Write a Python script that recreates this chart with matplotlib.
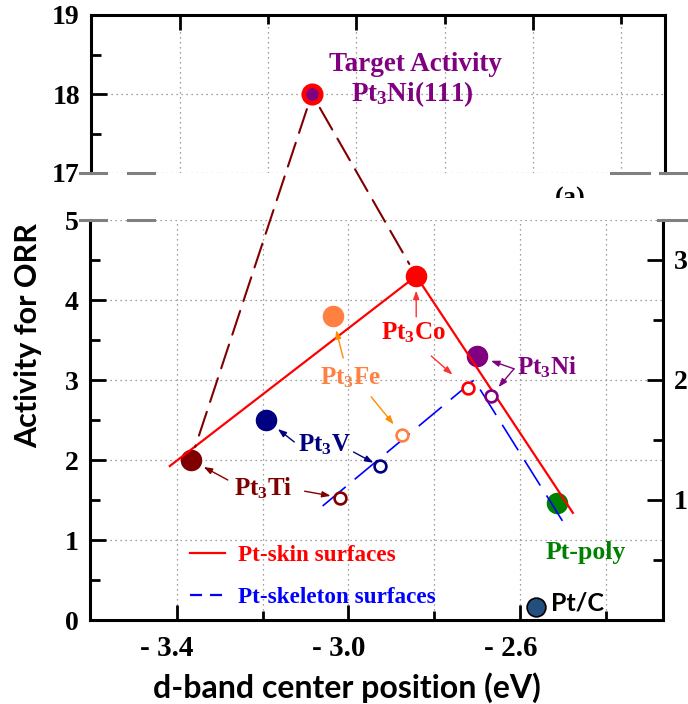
import matplotlib
matplotlib.use('Agg')
import matplotlib.pyplot as plt
from matplotlib.lines import Line2D
from matplotlib.patches import ConnectionPatch
from matplotlib.transforms import Bbox, TransformedBbox, ScaledTranslation

SERIF = 'Liberation Serif'
SANS = 'Lato'
plt.rcParams['mathtext.default'] = 'regular'

# Pt-skin surfaces (filled circles, left axis)
alloys = ['Pt$_3$Ti', 'Pt$_3$V', 'Pt$_3$Fe', 'Pt$_3$Co', 'Pt$_3$Ni']
alloy_colors = ['#800000', '#000080', '#FF8040', '#FF0000', '#800080']
skin_dband = [-3.367, -3.191, -3.037, -2.842, -2.700]
skin_activity = [2.0, 2.5, 3.8, 4.3, 3.3]

# Pt-skeleton surfaces (open circles, right axis)
skel_dband = [-3.019, -2.926, -2.874, -2.721, -2.667]
skel_activity = [1.02, 1.28, 1.54, 1.93, 1.87]

ptpoly_dband, ptpoly_activity = -2.514, 1.46
ptc_dband, ptc_activity = -2.563, 0.16
target_dband, target_activity = -3.101, 18.0

# trend lines
skin_line_x = [-3.416, -2.842, -2.477]
skin_line_y = [1.925, 4.3, 1.34]
skel_line_x = [-3.060, -2.707, -2.495]
skel_line_y = [0.95, 2.0, 0.79]

x_major = [-3.4, -3.0, -2.6]
x_minor = [-3.2, -2.8, -2.4]
x_tick_labels = ['- 3.4', '- 3.0', '- 2.6']

W, H = 688, 704
fig = plt.figure(figsize=(W / 100, H / 100), dpi=100)


def fig_rect(x0, y0, x1, y1):
    # pixel box (top-left origin) -> figure fraction rect
    return [x0 / W, 1 - y1 / H, (x1 - x0) / W, (y1 - y0) / H]


def fig_xy(px, py):
    return px / W, 1 - py / H


ax_top = fig.add_axes(fig_rect(91, 15, 665, 173))
ax = fig.add_axes(fig_rect(90, 220, 663, 620))
ax_r = ax.twinx()

grid_kw = dict(color='#808080', linestyle=(0, (1, 3)), linewidth=0.9)
tick_font = dict(family=SERIF, weight='bold')

# ---- top (broken) axes ----
ax_top.set_xlim(-3.602, -2.300)
ax_top.set_ylim(17, 19)
ax_top.set_xticks(x_major)
ax_top.set_xticks(x_minor, minor=True)
ax_top.set_yticks([17, 18, 19])
ax_top.set_yticks([17.5, 18.5], minor=True)
ax_top.set_yticklabels(['17', '18', '19'], fontsize=20, **tick_font)
ax_top.tick_params(axis='x', which='both', direction='in', top=True, bottom=False,
                   labeltop=False, labelbottom=False, width=2)
ax_top.tick_params(axis='x', which='major', length=11)
ax_top.tick_params(axis='x', which='minor', length=6.5)
ax_top.tick_params(axis='y', which='both', direction='in', left=True, right=False, width=2, pad=8)
ax_top.tick_params(axis='y', which='major', length=11.5)
ax_top.tick_params(axis='y', which='minor', length=7)
ax_top.spines['bottom'].set_visible(False)
for s in ['top', 'left', 'right']:
    ax_top.spines[s].set_linewidth(2.2)
ax_top.grid(True, which='both', axis='x', **grid_kw)
ax_top.grid(True, which='major', axis='y', **grid_kw)
ax_top.set_axisbelow(True)

# ---- bottom axes ----
ax.set_xlim(-3.602, -2.267)
ax.set_ylim(0, 5)
ax.set_xticks(x_major)
ax.set_xticks(x_minor, minor=True)
ax.set_xticklabels(x_tick_labels, fontsize=21, **tick_font)
ax.set_yticks([0, 1, 2, 3, 4, 5])
ax.set_yticks([0.5, 1.5, 2.5, 3.5, 4.5], minor=True)
ax.set_yticklabels(['0', '1', '2', '3', '4', '5'], fontsize=20, **tick_font)
ax.tick_params(axis='x', which='both', direction='in', width=2, pad=11)
ax.tick_params(axis='x', which='major', length=11)
ax.tick_params(axis='x', which='minor', length=6.5)
ax.tick_params(axis='y', which='both', direction='in', width=2, pad=8)
ax.tick_params(axis='y', which='major', length=11.5)
ax.tick_params(axis='y', which='minor', length=7)
for lab in ax.get_xticklabels():
    lab.set_transform(lab.get_transform() + ScaledTranslation(-7 / 72, 0, fig.dpi_scale_trans))
ax.spines['top'].set_visible(False)
ax.spines['right'].set_visible(False)
for s in ['left', 'bottom']:
    ax.spines[s].set_linewidth(2.2)
ax.grid(True, which='both', axis='x', **grid_kw)
ax.grid(True, which='major', axis='y', **grid_kw)
ax.set_axisbelow(True)

ax_r.set_ylim(0, 3.333)
ax_r.set_yticks([1, 2, 3])
ax_r.set_yticks([0.5, 1.5, 2.5], minor=True)
ax_r.set_yticklabels(['1', '2', '3'], fontsize=20, **tick_font)
ax_r.tick_params(axis='y', which='both', direction='in', width=2, pad=8)
ax_r.tick_params(axis='y', which='major', length=11.5)
ax_r.tick_params(axis='y', which='minor', length=7)
ax_r.spines['top'].set_visible(False)
ax_r.spines['left'].set_visible(False)
ax_r.spines['bottom'].set_visible(False)
ax_r.spines['right'].set_linewidth(2.2)

ax.set_xlabel('d-band center position (eV)', fontsize=23, family=SANS, weight='bold')
ax.xaxis.set_label_coords(0.449, -0.13)
fig.text(28 / W, 1 - 335 / H, 'Activity for ORR', rotation=90, ha='center', va='center',
         fontsize=22, family=SANS, weight='bold')

# ---- markers and trend lines ----
for x, y, c in zip(skin_dband, skin_activity, alloy_colors):
    ax.plot(x, y, 'o', ms=14.5, color=c, mec=c, zorder=3)
ax.plot(ptpoly_dband, ptpoly_activity, 'o', ms=14.5, color='#008000', zorder=3)
ax.plot(ptc_dband, ptc_activity, 'o', ms=13.5, color='#234E7E', mec='black', mew=1.2, zorder=3)
ax.plot(skin_line_x, skin_line_y, '-', color='#FF0000', lw=1.6, zorder=4)

ax_r.plot(skel_line_x, skel_line_y, color='#0000FF', lw=1.2, dashes=(18, 7), zorder=2)
for x, y, c in zip(skel_dband, skel_activity, alloy_colors):
    ax_r.plot(x, y, 'o', ms=8.5, mfc='white', mec=c, mew=1.9, zorder=5)

ax_top.plot(target_dband, target_activity, 'o', ms=12.5, mfc='#800080', mec='#FF0000',
            mew=3.4, zorder=5, clip_on=False)

# dashed connection Ti -> target -> Co across the axis break
for xb, yb in [(skin_dband[0], skin_activity[0]), (skin_dband[3], skin_activity[3])]:
    con = ConnectionPatch(xyA=(target_dband, target_activity), coordsA=ax_top.transData,
                          xyB=(xb, yb), coordsB=ax.transData, color='#800000', lw=1.5,
                          linestyle=(0, (12, 5)), shrinkA=11.5, shrinkB=10, zorder=4)
    fig.add_artist(con)

# ---- labels and arrows ----
lab_font = dict(family=SERIF, weight='bold', fontsize=18)
ax_top.text(-2.867, 18.37, 'Target Activity', color='#800080', ha='center', va='center',
            family=SERIF, weight='bold', fontsize=19.5)
ax_top.text(-2.872, 18.0, 'Pt$_3$Ni(111)', color='#800080', ha='center', va='center',
            family=SERIF, weight='bold', fontsize=19.5)

label_pos = [(-3.198, 1.65), (-3.056, 2.19), (-2.995, 3.025), (-2.849, 3.59), (-2.537, 3.16)]
for name, (tx, ty), c in zip(alloys, label_pos, alloy_colors):
    ax.text(tx, ty, name, color=c, ha='center', va='center', **lab_font)

arrow_colors = ['#800000', '#000080', '#FF8C00', '#FF3030', '#800080']
# arrow tails (near labels): to filled marker, to open marker
tails_filled = [(-3.281, 1.75), (-3.126, 2.225), (-3.012, 3.275), (-2.842, 3.79), (-2.614, 3.14)]
tails_open = [(-3.102, 1.61), (-2.988, 2.10), (-2.947, 2.79), (-2.807, 3.30), (-2.614, 3.14)]
shrink_open = [7, 5.5, 10, 15, 8]
for i in range(5):
    ap = dict(arrowstyle='-|>,head_length=0.5,head_width=0.18', color=arrow_colors[i], lw=1.0,
              shrinkA=0, shrinkB=10.5)
    ax_r.annotate('', xy=(skin_dband[i], skin_activity[i]), xycoords=ax.transData,
                  xytext=tails_filled[i], textcoords=ax.transData, arrowprops=ap, zorder=6)
    ap = dict(ap, shrinkB=shrink_open[i])
    ax_r.annotate('', xy=(skel_dband[i], skel_activity[i]), xycoords=ax_r.transData,
                  xytext=tails_open[i], textcoords=ax.transData, arrowprops=ap, zorder=6)

ax.text(-2.447, 0.84, 'Pt-poly', color='#008000', ha='center', va='center',
        family=SERIF, weight='bold', fontsize=18.5)
ax.text(-2.528, 0.21, 'Pt/C', color='black', ha='left', va='center', fontsize=18,
        family=SANS, weight='bold')

handles = [Line2D([], [], color='#FF0000', lw=1.6),
           Line2D([], [], color='#0000FF', lw=1.6, dashes=(5.4, 3.6))]
leg = ax_r.legend(handles, ['Pt-skin surfaces', 'Pt-skeleton surfaces'], loc='upper left',
                  bbox_to_anchor=((190 - 90) / 573, (620 - 545) / 400), frameon=False,
                  borderpad=0, borderaxespad=0, handlelength=1.5, handletextpad=0.57,
                  labelspacing=0.9, prop=dict(family=SERIF, weight='bold', size=16.7))
for t, c in zip(leg.get_texts(), ['#FF0000', '#0000FF']):
    t.set_color(c)

# panel tag, half hidden
tag = fig.text(*fig_xy(570, 187), '(a)', ha='center', va='top', fontsize=19,
               family=SERIF, weight='bold')
tag.set_clip_box(TransformedBbox(Bbox([[0, 1 - 198 / H], [1, 1]]), fig.transFigure))

# gray axis-break marks
break_segs = [(80, 106, 173), (128, 154, 173), (80, 106, 220), (128, 154, 220),
              (611, 649, 173), (660, 686, 173), (658, 686, 220)]
for x0, x1, y in break_segs:
    fig.add_artist(Line2D([x0 / W, x1 / W], [1 - y / H, 1 - y / H], color='#808080', lw=2.2))

fig.savefig('out.png', dpi=100)
